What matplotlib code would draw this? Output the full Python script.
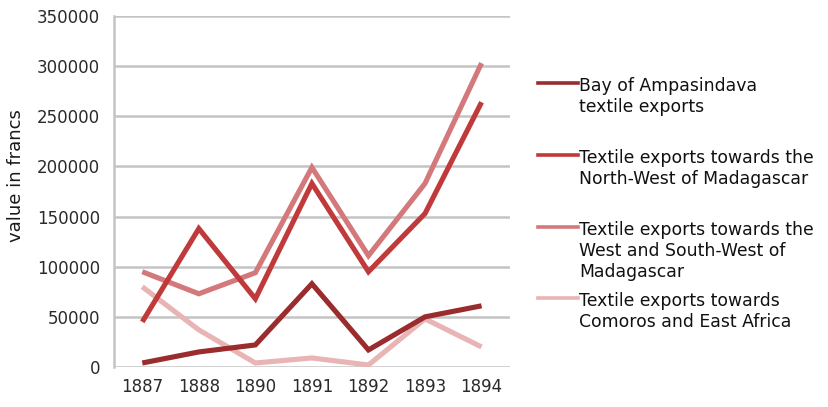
import matplotlib
matplotlib.use("Agg")
import matplotlib.pyplot as plt
from matplotlib.lines import Line2D

years = ["1887", "1888", "1890", "1891", "1892", "1893", "1894"]
bay = [4000, 15000, 22000, 83000, 17000, 50000, 61000]
north_west = [45000, 138000, 68000, 183000, 95000, 153000, 264000]
west_sw = [95000, 73000, 94000, 199000, 111000, 183000, 303000]
comoros = [80000, 37000, 4000, 9000, 2000, 48000, 20000]

labels = [
    "Bay of Ampasindava\ntextile exports",
    "Textile exports towards the\nNorth-West of Madagascar",
    "Textile exports towards the\nWest and South-West of\nMadagascar",
    "Textile exports towards\nComoros and East Africa",
]
colors = ["#9b2c2e", "#c0393b", "#d4797b", "#e8b4b4"]
yticks = list(range(0, 350001, 50000))

plt.rcParams["font.family"] = ["DejaVu Sans"]

fig = plt.figure(figsize=(8.29, 4.07), dpi=100)
ax = fig.add_axes([0.1375, 0.0983, 0.4775, 0.8624])

x = list(range(len(years)))
for vals, c in zip([bay, north_west, west_sw, comoros][::-1], colors[::-1]):
    ax.plot(x, vals, color=c, lw=3.7, solid_capstyle="butt", solid_joinstyle="miter")

ax.set_xlim(-0.5, len(years) - 0.5)
ax.set_ylim(0, 350000)
ax.set_yticks(yticks)
ax.set_yticklabels([str(v) for v in yticks])
ax.set_xticks(x)
ax.set_xticklabels(years)
ax.tick_params(length=0, labelsize=12, colors="#2a2a2a")
ax.tick_params(axis="x", pad=8)
ax.tick_params(axis="y", pad=10)
ax.yaxis.grid(True, color="#c4c4c4", lw=1.8)
ax.set_axisbelow(True)
for s in ["top", "right", "bottom"]:
    ax.spines[s].set_visible(False)
ax.spines["left"].set_color("#c4c4c4")
ax.spines["left"].set_linewidth(1.8)
ax.set_ylabel("value in francs", fontsize=13, color="#1a1a1a", labelpad=6)
ax.yaxis.set_label_coords(-0.225, 0.545)

# legend drawn by hand, handle aligned with first text line
leg_y = [0.796, 0.619, 0.442, 0.268]
for yy, lab, c in zip(leg_y, labels, colors):
    fig.add_artist(Line2D([0.649, 0.697], [yy, yy], transform=fig.transFigure,
                          color=c, lw=2.6))
    fig.text(0.699, yy + 0.014, lab, fontsize=12.4, color="#111111",
             va="top", ha="left", linespacing=1.2)

fig.savefig("out.png", dpi=100)
